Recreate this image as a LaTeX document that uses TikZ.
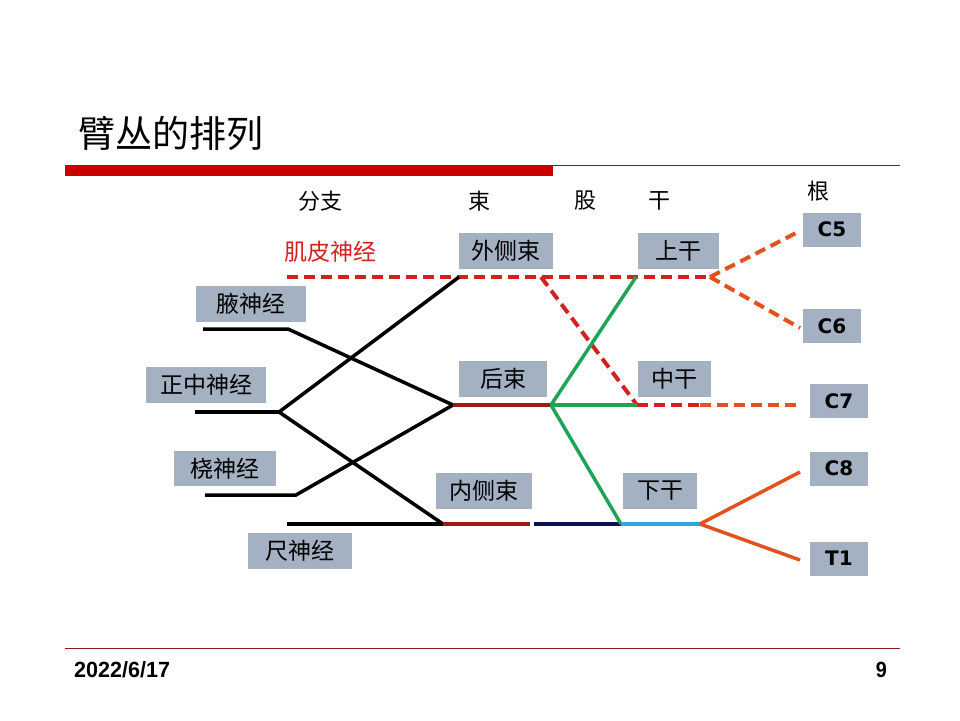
\documentclass[tikz,border=0pt]{standalone}
\usepackage{fontspec}
\usepackage{graphicx}
\newfontfamily\cjk{Noto Sans CJK SC}
\newfontfamily\latinb{DejaVu Sans}
\newfontfamily\datef{Liberation Sans}
\definecolor{boxgray}{HTML}{A3B1C2}
\definecolor{barred}{HTML}{C80000}
\definecolor{lnred}{HTML}{D42020}
\definecolor{lnorange}{HTML}{E2521E}
\definecolor{lngreen}{HTML}{1FA356}
\definecolor{lnblue}{HTML}{2AAAE0}
\definecolor{lnnavy}{HTML}{0E0E5A}
\definecolor{lndred}{HTML}{A51515}
\definecolor{rulered}{HTML}{8A1C1C}
\tikzset{
  gbox/.style={fill=boxgray, inner sep=0pt, font=\cjk\fontsize{23}{25}\selectfont, text=black},
  rbox/.style={fill=boxgray, inner sep=0pt, minimum width=58pt, minimum height=34pt, font=\latinb\bfseries\fontsize{20}{22}\selectfont},
  hdr/.style={font=\cjk\fontsize{22}{24}\selectfont, inner sep=0pt},
  nerve/.style={line width=3.5pt, black},
  rdash/.style={line width=4pt, lnred, dash pattern=on 11pt off 6pt},
  odash/.style={line width=4pt, lnorange, dash pattern=on 11pt off 6pt},
}
\begin{document}
\begin{tikzpicture}[x=1pt,y=-1pt]
\useasboundingbox (0,0) rectangle (960,720);
% title and bars
\node[anchor=west, inner sep=0pt, font=\cjk\fontsize{37}{40}\selectfont] (title) at (78,133) {臂丛的排列};
\fill[barred] (65,165) rectangle (553,176);
\draw[rulered, line width=1pt] (553,165.5) -- (900,165.5);
\draw[rulered, line width=1pt] (65,648) -- (900,648);
\node[anchor=west, inner sep=0pt, font=\datef\bfseries\fontsize{22}{24}\selectfont] (date) at (74,670) {\scalebox{0.98}[1]{2022/6/17}};
\node[anchor=east, inner sep=0pt, font=\datef\bfseries\fontsize{22}{24}\selectfont] (page) at (887,670) {\scalebox{0.9}[1]{9}};
% headers
\node[hdr] (hfz) at (320,201) {分支};
\node[hdr] (hsu) at (479,201) {束};
\node[hdr] (hgu) at (585,201) {股};
\node[hdr] (hgan) at (659,201) {干};
\node[hdr] (hgen) at (818,191) {根};
% boxes
\node[gbox, minimum width=110pt, minimum height=36pt] (ye) at (251,304) {腋神经};
\node[gbox, minimum width=120pt, minimum height=36pt] (zz) at (206,385) {正中神经};
\node[gbox, minimum width=102pt, minimum height=35pt] (rao) at (225,468.5) {桡神经};
\node[gbox, minimum width=104pt, minimum height=36pt] (chi) at (300,551) {尺神经};
\node[gbox, minimum width=94pt, minimum height=36pt] (wcs) at (506,251) {外侧束};
\node[gbox, minimum width=88pt, minimum height=36pt] (hs) at (503,379) {后束};
\node[gbox, minimum width=96pt, minimum height=36pt] (ncs) at (484,491) {内侧束};
\node[gbox, minimum width=81pt, minimum height=36pt] (sg) at (678.5,251) {上干};
\node[gbox, minimum width=73pt, minimum height=36pt] (zg) at (674.5,379) {中干};
\node[gbox, minimum width=74pt, minimum height=36pt] (xg) at (660,491) {下干};
\node[rbox] (c5) at (832,229.5) {C5};
\node[rbox] (c6) at (832,326) {C6};
\node[rbox] (c7) at (839,401) {C7};
\node[rbox] (c8) at (839,468.5) {C8};
\node[rbox] (t1) at (839,558.5) {T1};
\node[inner sep=0pt, text=lnred, font=\cjk\fontsize{23}{25}\selectfont] (jp) at (330,252) {肌皮神经};
% junction coordinates
\coordinate (jpL) at (287,277);
\coordinate (wcsJ) at (459,277);
\coordinate (split) at (541,277);
\coordinate (sgJ) at (636,277);
\coordinate (sgR) at (710,277);
\coordinate (c5E) at (800,231);
\coordinate (c6E) at (800,328);
\coordinate (zgJ) at (637,405);
\coordinate (c7mid) at (700,405);
\coordinate (c7E) at (800,405);
\coordinate (yeL) at (203,329);
\coordinate (yeJ) at (288,329);
\coordinate (zzL) at (195,412);
\coordinate (zzJ) at (279,412);
\coordinate (raoL) at (205,495);
\coordinate (raoJ) at (296,495);
\coordinate (chiL) at (287,524);
\coordinate (hsJ) at (453,405);
\coordinate (gJ) at (551,405);
\coordinate (ncsJ) at (443,524);
\coordinate (ncsE) at (530,524);
\coordinate (navS) at (534,524);
\coordinate (xgJ) at (621,524);
\coordinate (xgR) at (700,524);
\coordinate (c8E) at (800,472);
\coordinate (t1E) at (800,560);
% dashed lines
\draw[rdash] (jpL) -- (sgR);
\draw[rdash] (split) -- (zgJ);
\draw[rdash] (zgJ) -- (c7mid);
\draw[odash] (c7mid) -- (c7E);
\draw[odash] (sgR) -- (c5E);
\draw[odash] (sgR) -- (c6E);
% black nerves
\draw[nerve] (yeL) -- (yeJ) -- (hsJ);
\draw[nerve] (zzL) -- (zzJ);
\draw[nerve] (zzJ) -- (wcsJ);
\draw[nerve] (zzJ) -- (ncsJ);
\draw[nerve] (raoL) -- (raoJ) -- (hsJ);
\draw[nerve] (chiL) -- (ncsJ);
% colored segments
\draw[line width=3.5pt, lndred] (hsJ) -- (gJ);
\draw[line width=3.5pt, lndred] (ncsJ) -- (ncsE);
\draw[line width=3.5pt, lnnavy] (navS) -- (xgJ);
\draw[line width=3.5pt, lngreen] (gJ) -- (zgJ);
\draw[line width=3.5pt, lngreen] (gJ) -- (sgJ);
\draw[line width=3.5pt, lngreen] (gJ) -- (xgJ);
\draw[line width=3.5pt, lnblue] (xgJ) -- (xgR);
\draw[line width=3.5pt, lnorange] (xgR) -- (c8E);
\draw[line width=3.5pt, lnorange] (xgR) -- (t1E);
\end{tikzpicture}
\end{document}
